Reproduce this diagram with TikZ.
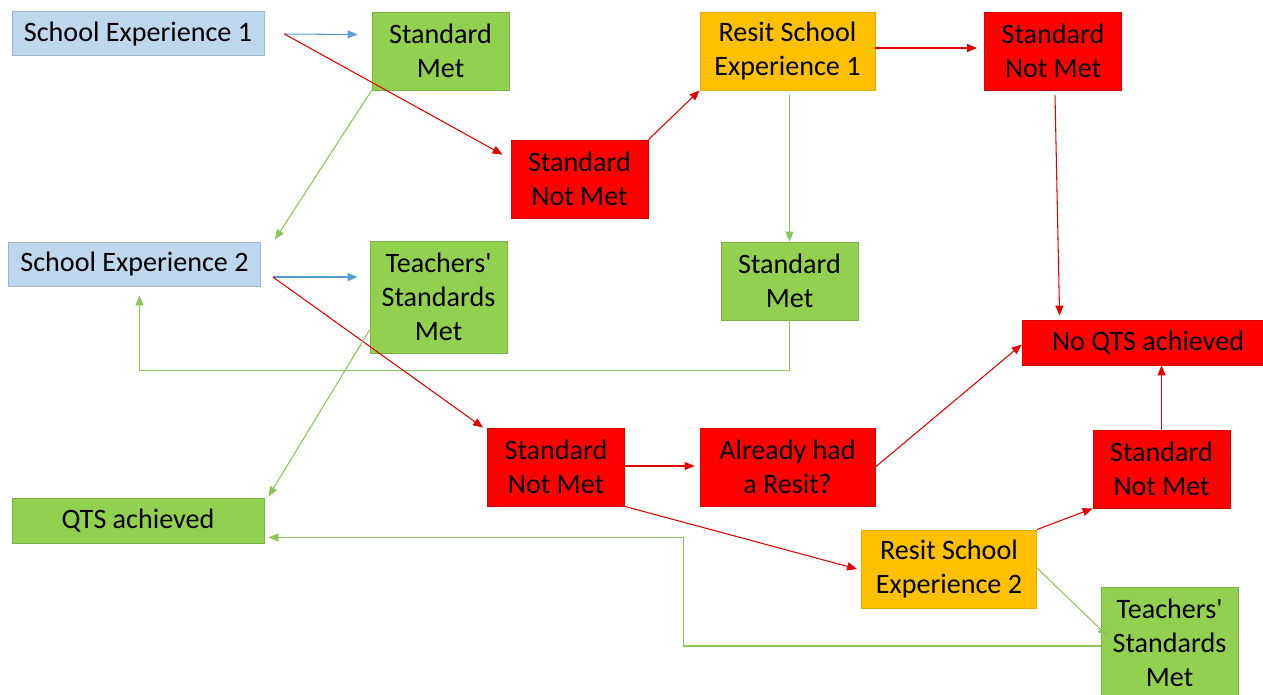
\documentclass[tikz,border=0pt]{standalone}
\usepackage{fontspec}
\setmainfont{Carlito}
\usetikzlibrary{arrows.meta,calc}

\definecolor{seblue}{HTML}{BDD7EE}
\definecolor{metgreen}{HTML}{92D050}
\definecolor{resitamber}{HTML}{FFC000}
\definecolor{failred}{HTML}{FF0000}
\definecolor{lineblue}{HTML}{5B9BD5}
\definecolor{linered}{HTML}{E00000}
\definecolor{linegreen}{HTML}{8CC65A}

\begin{document}
\begin{tikzpicture}[
  x=0.02cm, y=-0.02cm,
  font=\fontsize{16}{19.3}\selectfont,
  blk/.style={rectangle, inner sep=0pt, align=center, line width=0.5pt,
              minimum width=2.74cm, minimum height=1.56cm},
  sebox/.style={blk, fill=seblue, draw=seblue!80!black!90, minimum width=5.04cm,
                minimum height=0.88cm},
  metbox/.style={blk, fill=metgreen, draw=metgreen!85!black},
  failbox/.style={blk, fill=failred, draw=failred!85!black},
  resitbox/.style={blk, fill=resitamber, draw=resitamber!90!black,
                   minimum width=3.5cm},
  ar/.style={-{Triangle[length=2mm,width=1.6mm]}, line width=0.6pt},
  arb/.style={ar, lineblue},
  arr/.style={ar, linered},
  arg/.style={ar, linegreen}
]
\clip (0,0) rectangle (1263,694);

% first placement
\node[sebox] (se1) at (138,33.5) {School Experience 1};
\node[metbox] (smA) at (440.5,51) {Standard\\Met};
\node[failbox] (snmB) at (579.5,179) {Standard\\Not Met};
\node[resitbox] (rs1) at (787.5,51) {Resit School\\Experience 1};
\node[failbox] (snmA) at (1053,51) {Standard\\Not Met};
\node[metbox] (smB) at (789.5,281) {Standard\\Met};

% second placement
\node[sebox] (se2) at (134.5,264) {School Experience 2};
\node[metbox, minimum height=2.24cm] (tsmA) at (438.5,297) {Teachers\textquotesingle\\Standards\\Met};
\node[failbox] (snmC) at (556,467) {Standard\\Not Met};
\node[failbox, minimum width=3.5cm] (resit) at (787.5,467) {Already had\\a Resit?};
\node[resitbox] (rs2) at (949,569) {Resit School\\Experience 2};
\node[failbox] (snmD) at (1161.5,469) {Standard\\Not Met};
\node[metbox, minimum height=2.24cm] (tsmB) at (1169.5,643) {Teachers\textquotesingle\\Standards\\Met};

% outcomes
\node[failbox, minimum width=5.04cm, minimum height=0.9cm] (noqts) at (1148,342.5) {No QTS achieved};
\node[metbox, minimum width=5.04cm, minimum height=0.9cm] (qts) at (138,520.5) {QTS achieved};

% connectors
\draw[arb] ($(se1.east)+(20,0.5)$) -- ($(smA.west)+(-14,-16.5)$);
\draw[arr] ($(se1.east)+(20,0.5)$) -- ($(snmB.north west)+(-8,15)$);
\draw[arr] (snmB.north east) -- (rs1.south west);
\draw[arr] ($(rs1.east)+(0,-3)$) -- ($(snmA.west)+(-7,-3)$);
\draw[arr] ($(snmA.south)+(2,5)$) -- ($(noqts.north west)+(38,-4)$);
\draw[arg] ($(rs1.south)+(2,5)$) -- (smB.north);
\draw[arg] (smA.south west) -- ($(se2.north east)+(14,-2)$);
\draw[arg] (smB.south) -- ++(0,50) -| ($(se2.south)+(5,9)$);

\draw[arb] ($(se2.east)+(12,13)$) -- ($(tsmA.west)+(-12,-20)$);
\draw[arr] ($(se2.east)+(12,13)$) -- ($(snmC.north west)+(-4,0)$);
\draw[arg] ($(tsmA.west)+(0,33)$) -- ($(qts.north east)+(4,-1)$);
\draw[arr] ($(snmC.east)+(0,-1)$) -- ($(resit.west)+(-5,-1)$);
\draw[arr] (resit.east) -- ($(noqts.west)+(0,2)$);
\draw[arr] (snmC.south east) -- ($(rs2.west)+(-4,0)$);
\draw[arr] (rs2.north east) -- (snmD.south west);
\draw[arr] (snmD.north) -- (snmD.north |- noqts.south);
\draw[arg] ($(rs2.east)+(0,-1)$) -- ($(tsmB.west)+(7,-7)$);
\draw[arg] ($(tsmB.west)+(0,3)$) -- ++(-417,0) |- ($(qts.south east)+(4,-6)$);
\end{tikzpicture}
\end{document}
